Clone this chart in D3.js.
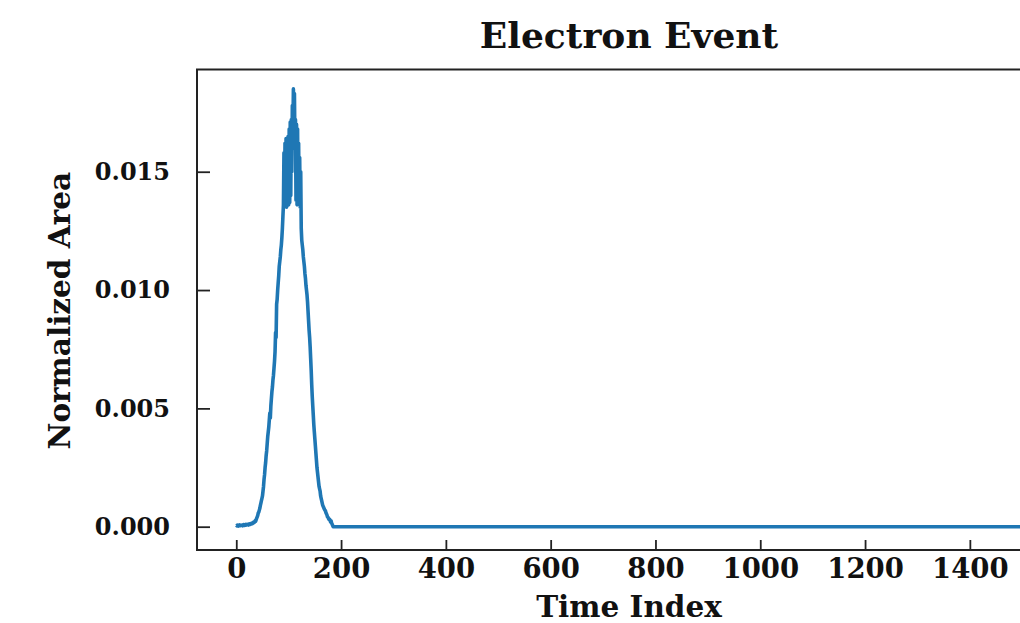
<!DOCTYPE html>
<html>
<head>
<meta charset="utf-8">
<script src="https://cdn.jsdelivr.net/npm/d3@7"></script>
<style>
  html, body { margin: 0; padding: 0; background: #fff; }
  svg text { font-family: "DejaVu Serif", serif; font-weight: bold; fill: #111; }
</style>
</head>
<body>
<svg id="chart" width="1020" height="623"></svg>
<script>
// Pulse samples (normalized area per time index) for the start of the event.
const pulseValues = [
  0.00006, 0.00004, 0.00007, 0.00005, 0.00003, 0.00006, 0.00008, 0.00005, 0.00004, 0.00006,
  0.00005, 0.00007, 0.00004, 0.00006, 0.00009, 0.00006, 0.00005, 0.00008, 0.00010, 0.00007,
  0.00009, 0.00008, 0.00010, 0.00007, 0.00011, 0.00009, 0.00012, 0.00010, 0.00013, 0.00012,
  0.00015, 0.00013, 0.00017, 0.00019, 0.00017, 0.00022, 0.00025, 0.00023, 0.00030, 0.00036,
  0.00042, 0.00048, 0.00058, 0.00062, 0.00070, 0.00078, 0.00090, 0.00100, 0.00110, 0.00120,
  0.00130, 0.00150, 0.00170, 0.00200, 0.00220, 0.00250, 0.00270, 0.00300, 0.00320, 0.00350,
  0.00380, 0.00400, 0.00420, 0.00450, 0.00480, 0.00460, 0.00510, 0.00540, 0.00570, 0.00590,
  0.00620, 0.00640, 0.00670, 0.00700, 0.00740, 0.00820, 0.00800, 0.00940, 0.00960, 0.01000,
  0.01030, 0.01060, 0.01100, 0.01120, 0.01140, 0.01170, 0.01190, 0.01220, 0.01260, 0.01310,
  0.01360, 0.01580, 0.01360, 0.01620, 0.01370, 0.01640, 0.01350, 0.01600, 0.01380, 0.01650,
  0.01360, 0.01680, 0.01370, 0.01710, 0.01400, 0.01720, 0.01500, 0.01780, 0.01650, 0.01850,
  0.01680, 0.01830, 0.01600, 0.01720, 0.01380, 0.01700, 0.01360, 0.01680, 0.01370, 0.01620,
  0.01360, 0.01560, 0.01350, 0.01500, 0.01260, 0.01210, 0.01190, 0.01170, 0.01140, 0.01120,
  0.01100, 0.01070, 0.01050, 0.01020, 0.01000, 0.00980, 0.00950, 0.00910, 0.00870, 0.00830,
  0.00800, 0.00760, 0.00710, 0.00660, 0.00600, 0.00550, 0.00510, 0.00470, 0.00430, 0.00400,
  0.00370, 0.00340, 0.00310, 0.00280, 0.00250, 0.00230, 0.00210, 0.00190, 0.00170, 0.00160,
  0.00150, 0.00130, 0.00120, 0.00110, 0.00100, 0.00090, 0.00085, 0.00080, 0.00075, 0.00070,
  0.00068, 0.00060, 0.00055, 0.00050, 0.00042, 0.00040, 0.00035, 0.00030, 0.00032, 0.00028,
  0.00020, 0.00025, 0.00015, 0.00010, 0.00005, 0, 0, 0, 0, 0
];
// After the pulse the trace sits at zero until the last recorded index.
const baselineValue = 0;
const sampleCount = 1500;

const xTicks = [0, 200, 400, 600, 800, 1000, 1200, 1400];
const yTicks = [0.000, 0.005, 0.010, 0.015];
const yTickLabels = ["0.000", "0.005", "0.010", "0.015"];

const titleText = "Electron Event";
const xLabelText = "Time Index";
const yLabelText = "Normalized Area";

const series = d3.range(sampleCount).map(i => ({
  t: i,
  v: i < pulseValues.length ? pulseValues[i] : baselineValue
}));

const svg = d3.select("#chart");
const plot = { left: 197, right: 1061, top: 69.5, bottom: 550 };

const x = d3.scaleLinear()
  .domain([-0.05 * (sampleCount - 1), 1.05 * (sampleCount - 1)])
  .range([plot.left, plot.right]);
const y = d3.scaleLinear()
  .domain([-0.000985, 0.01932])
  .range([plot.bottom, plot.top]);

// Data trace, clipped to the axes box
svg.append("clipPath").attr("id", "plotClip")
  .append("rect")
  .attr("x", plot.left).attr("y", plot.top)
  .attr("width", plot.right - plot.left).attr("height", plot.bottom - plot.top);

const line = d3.line().x(d => x(d.t)).y(d => y(d.v));
svg.append("path")
  .datum(series)
  .attr("clip-path", "url(#plotClip)")
  .attr("fill", "none")
  .attr("stroke", "#1f77b4")
  .attr("stroke-width", 3.6)
  .attr("stroke-linejoin", "round")
  .attr("d", line);

// Axes with inward ticks
const xAxis = d3.axisBottom(x).tickValues(xTicks).tickSizeInner(-10).tickSizeOuter(0).tickPadding(8)
  .tickFormat(d3.format("d"));
const gx = svg.append("g").attr("transform", `translate(0,${plot.bottom})`).call(xAxis);
const yAxis = d3.axisLeft(y).tickValues(yTicks).tickSizeInner(-13).tickSizeOuter(0).tickPadding(27)
  .tickFormat((d, i) => yTickLabels[i]);
const gy = svg.append("g").attr("transform", `translate(${plot.left},0)`).call(yAxis);

[gx, gy].forEach(g => {
  g.select(".domain").remove();
  g.selectAll(".tick line").attr("stroke", "#222").attr("stroke-width", 1.8);
  g.selectAll(".tick text").attr("fill", "#111")
    .style("font-family", "'DejaVu Serif', serif").style("font-weight", "bold");
});
gx.selectAll(".tick text").attr("font-size", 27.5);
gy.selectAll(".tick text").attr("font-size", 24);

// Axes box
svg.append("rect")
  .attr("x", plot.left).attr("y", plot.top)
  .attr("width", plot.right - plot.left).attr("height", plot.bottom - plot.top)
  .attr("fill", "none").attr("stroke", "#222").attr("stroke-width", 2);

// Titles
const midX = (plot.left + plot.right) / 2;
svg.append("text").attr("x", midX).attr("y", 48).attr("text-anchor", "middle")
  .attr("font-size", 36).text(titleText);
svg.append("text").attr("x", midX).attr("y", 617).attr("text-anchor", "middle")
  .attr("font-size", 29.5).text(xLabelText);
svg.append("text")
  .attr("transform", `translate(70,${(plot.top + plot.bottom) / 2 + 1}) rotate(-90)`)
  .attr("text-anchor", "middle").attr("font-size", 29.5).text(yLabelText);
</script>
</body>
</html>
